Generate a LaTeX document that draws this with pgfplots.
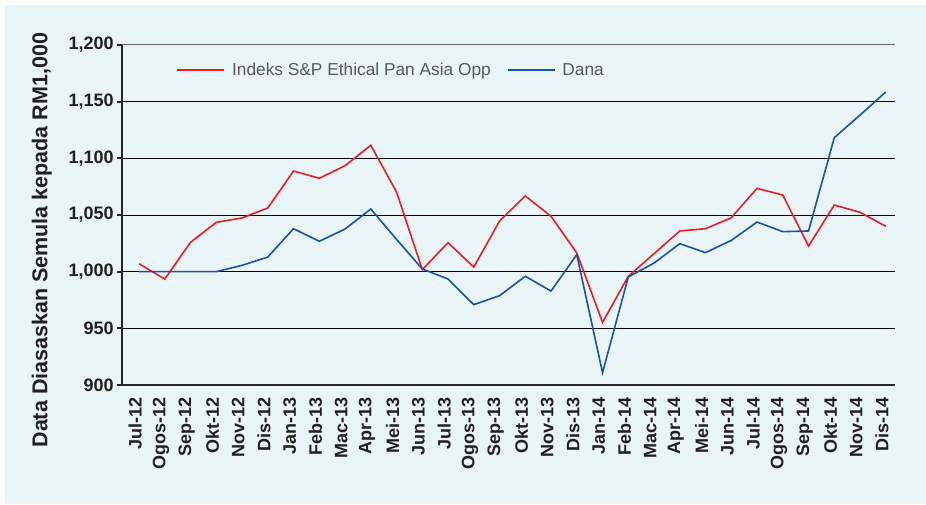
\documentclass[border=0pt]{standalone}
\usepackage{pgfplots}
\pgfplotsset{compat=1.18}
\usepackage{fontspec}
\setmainfont{Liberation Sans}
\definecolor{bgc}{HTML}{EAF5F7}
\definecolor{redl}{HTML}{EC1C24}
\definecolor{bluel}{HTML}{1A53A3}
\definecolor{txt}{HTML}{231F20}
\definecolor{legtxt}{HTML}{58595B}
\begin{document}
\begin{tikzpicture}[x=1pt,y=1pt]
\fill[white] (0,0) rectangle (926,504);
\fill[bgc] (5,0) rectangle (926,499);
\begin{axis}[
  at={(122.3pt,119pt)}, anchor=south west,
  scale only axis, width=773pt, height=340pt,
  xmin=-0.65, xmax=29.37, ymin=900, ymax=1200,
  axis lines=left,
  axis line style={-, line width=2.2pt, draw=black!85},
  ytick={900,950,1000,1050,1100,1150},
  extra y ticks={1200},
  extra y tick style={grid style={draw=black!60, line width=1pt}},
  ymajorgrids,
  grid style={draw=black, line width=1pt},
  tick align=outside,
  y tick style={line width=2pt, draw=black!85},
  major tick length=5pt,
  /pgf/number format/assume math mode=true,
  /pgf/number format/1000 sep={,},
  yticklabel style={font=\bfseries\fontsize{18}{18}\selectfont, text=txt},
  xtick={-0.15,0.85,1.85,2.85,3.85,4.85,5.85,6.85,7.85,8.85,9.85,10.85,11.85,12.85,13.85,14.85,15.85,16.85,17.85,18.85,19.85,20.85,21.85,22.85,23.85,24.85,25.85,26.85,27.85,28.85},
  xticklabels={Jul-12,Ogos-12,Sep-12,Okt-12,Nov-12,Dis-12,Jan-13,Feb-13,Mac-13,Apr-13,Mei-13,Jun-13,Jul-13,Ogos-13,Sep-13,Okt-13,Nov-13,Dis-13,Jan-14,Feb-14,Mac-14,Apr-14,Mei-14,Jun-14,Jul-14,Ogos-14,Sep-14,Okt-14,Nov-14,Dis-14},
  x tick style={draw=none},
  xticklabel style={rotate=90, anchor=east, font=\bfseries\fontsize{18}{18}\selectfont, text=txt, xshift=-4pt},
  extra x ticks={-0.63,0.37,1.37,2.37,3.37,4.37,5.37,6.37,7.37,8.37,9.37,10.37,11.37,12.37,13.37,14.37,15.37,16.37,17.37,18.37,19.37,20.37,21.37,22.37,23.37,24.37,25.37,26.37,27.37,28.37,29.37},
  extra x tick labels={},
  extra x tick style={major tick length=7pt, tick style={draw=black!85, line width=2pt}},
  ylabel={Data Diasaskan Semula kepada RM1,000},
  ylabel style={font=\bfseries\fontsize{21.5}{21.5}\selectfont, text=txt, at={(axis description cs:-0.104,0.426)}, anchor=center},
  legend columns=2,
  legend style={at={(axis description cs:0.066,0.926)}, anchor=west, draw=none, fill=none,
    font=\fontsize{17.3}{17.3}\selectfont, text=legtxt,
    /tikz/every odd column/.append style={column sep=5pt},
    /tikz/every even column/.append style={column sep=14pt}},
  legend image code/.code={\draw[#1] (0pt,0pt) -- (47pt,0pt);},
  clip=false,
]
\addplot[redl, line width=1.6pt] coordinates {
(0,1007) (1,993.5) (2,1025.9) (3,1043.5) (4,1047.4) (5,1056.2) (6,1088.8) (7,1082.4) (8,1093.5) (9,1111.5)
(10,1070.3) (11,1001.8) (12,1025.6) (13,1004) (14,1044.7) (15,1066.8) (16,1048.8) (17,1016.5) (18,955.3) (19,995.9)
(20,1015.9) (21,1035.9) (22,1037.9) (23,1047.6) (24,1073.5) (25,1067.6) (26,1022.6) (27,1058.8) (28,1052.4) (29,1040)
};
\addlegendentry{Indeks S\&P Ethical Pan Asia Opp}
\addplot[bluel, line width=1.6pt] coordinates {
(0,1000) (1,1000) (2,1000) (3,1000) (4,1005.6) (5,1012.9) (6,1037.9) (7,1026.8) (8,1037.6) (9,1055.3)
(10,1028.5) (11,1002.4) (12,993.5) (13,970.9) (14,978.8) (15,995.9) (16,982.9) (17,1015) (18,910.9) (19,995.3)
(20,1007.6) (21,1024.7) (22,1016.8) (23,1027.6) (24,1043.8) (25,1035.3) (26,1035.9) (27,1118.2) (28,1138.2) (29,1158.5)
};
\addlegendentry{Dana}
\end{axis}
\pgfresetboundingbox
\useasboundingbox (0,0) rectangle (926,504);
\end{tikzpicture}
\end{document}
